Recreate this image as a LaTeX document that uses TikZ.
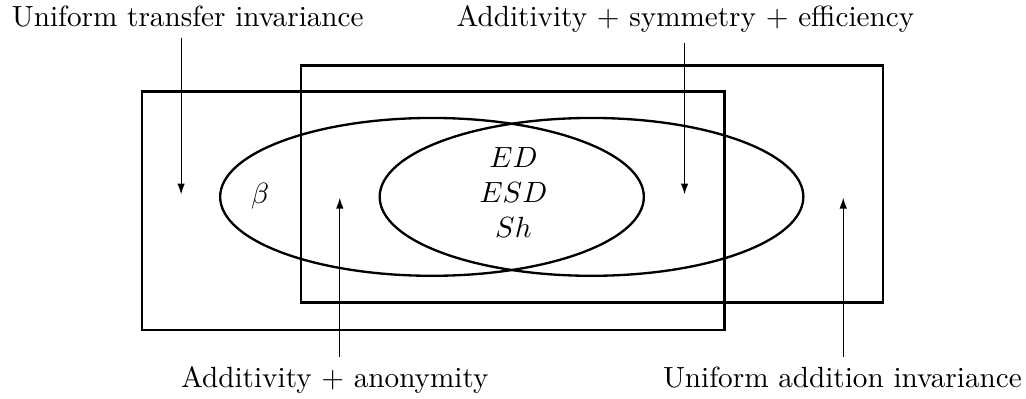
\documentclass[tikz,border=0pt]{standalone}
\usepackage{amsmath}
\usepackage{tikz}
\usetikzlibrary{arrows.meta, positioning, calc}

\begin{document}
\begin{tikzpicture}[
        region/.style={draw, thick},
        arrow/.style={-{Latex[length=1.3mm, width=0.9mm]}},
        caption/.style={anchor=base}
    ]
        \useasboundingbox (0,0) rectangle (12.35,4.80);

        % Rectangles
        \draw[region] (1.71,0.83) rectangle (8.72,3.70);
        \draw[region] (3.62,1.16) rectangle (10.63,4.01);

        % Ellipses
        \draw[region] (5.20,2.43) ellipse (2.55 and 0.95);
        \draw[region] (7.12,2.43) ellipse (2.55 and 0.95);

        \node[align=center] (core) at (6.18,2.48) {$ED$\\ $ESD$\\ $Sh$};
        \node (beta) at (3.13,2.44) {$\beta$};

        % Labels
        \node[caption] (transfer) at (2.26,4.48) {Uniform transfer invariance};
        \node[caption] (symeff) at (8.25,4.48) {Additivity $+$ symmetry $+$ efficiency};
        \node[caption] (anon) at (4.03,0.13) {Additivity $+$ anonymity};
        \node[caption] (addinv) at (10.14,0.13) {Uniform addition invariance};

        % Arrow tips
        \coordinate (tipA) at (2.18,2.46);
        \coordinate (tipB) at (8.24,2.46);
        \coordinate (tipC) at (4.09,2.42);
        \coordinate (tipD) at (10.15,2.42);

        \draw[arrow] (transfer.south -| tipA) -- (tipA);
        \draw[arrow] (symeff.south -| tipB) -- (tipB);
        \draw[arrow] (anon.north -| tipC) -- (tipC);
        \draw[arrow] (addinv.north -| tipD) -- (tipD);
    \end{tikzpicture}
\end{document}
